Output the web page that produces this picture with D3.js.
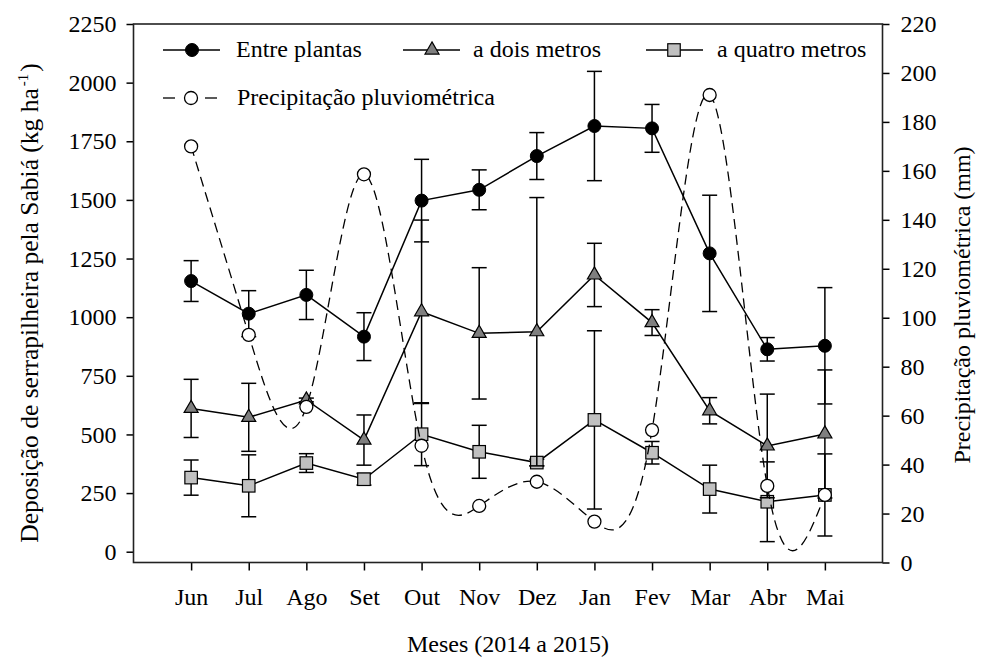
<!DOCTYPE html>
<html>
<head>
<meta charset="utf-8">
<script src="https://cdn.jsdelivr.net/npm/d3@7"></script>
<style>
  html, body { margin: 0; padding: 0; background: #fff; }
  svg { display: block; }
  text { font-family: "Liberation Serif", "Times New Roman", serif; fill: #000; }
</style>
</head>
<body>
<svg id="chart" width="986" height="659"></svg>
<script>
// ---- Data ----
const months = ["Jun","Jul","Ago","Set","Out","Nov","Dez","Jan","Fev","Mar","Abr","Mai"];
const entrePlantas    = [1154, 1015, 1095, 917, 1497, 1543, 1687, 1815, 1805, 1272, 863, 878];
const entrePlantasErr = [87, 98, 105, 102, 176, 85, 100, 233, 102, 248, 50, 248];
const doisMetros      = [611, 573, 647, 476, 1023, 931, 938, 1180, 977, 601, 451, 502];
const doisMetrosErr   = [124, 145, 8, 107, 391, 280, 572, 135, 55, 56, 221, 273];
const quatroMetros    = [316, 281, 378, 309, 501, 426, 380, 562, 422, 267, 213, 242];
const quatroMetrosErr = [75, 132, 40, 25, 134, 113, 14, 380, 48, 102, 170, 175];
const precipitacao    = [170, 93, 63.6, 158.6, 47.7, 23.1, 33, 16.7, 54.1, 191, 31.3, 27.6];
const leftTicks  = [0, 250, 500, 750, 1000, 1250, 1500, 1750, 2000, 2250];
const rightTicks = [0, 20, 40, 60, 80, 100, 120, 140, 160, 180, 200, 220];
const legendLabels = ["Entre plantas", "a dois metros", "a quatro metros", "Precipitação pluviométrica"];

// ---- Layout ----
const svg = d3.select("#chart");
const L = 133.5, R = 882.5, T = 24, B = 562.5;
const FONT = 24;

const x = d3.scaleLinear().domain([-1, 12]).range([L, R]);
const yL = d3.scaleLinear().domain([-46, 2250]).range([B, T]);
const yR = d3.scaleLinear().domain([0, 220]).range([B, T]);

// Axes
const gxL = svg.append("g").attr("transform", `translate(${L},0)`)
  .call(d3.axisLeft(yL).tickValues(leftTicks).tickSize(7).tickPadding(10).tickFormat(d3.format("d")));
const gxR = svg.append("g").attr("transform", `translate(${R},0)`)
  .call(d3.axisRight(yR).tickValues(rightTicks).tickSize(7).tickPadding(11).tickFormat(d3.format("d")));
const gxB = svg.append("g").attr("transform", `translate(0,${B})`)
  .call(d3.axisBottom(x).tickValues(d3.range(months.length)).tickSize(8).tickPadding(17).tickFormat(i => months[i]));
[gxL, gxR, gxB].forEach(g => {
  g.select(".domain").remove();
  g.selectAll(".tick line").attr("stroke", "#000").attr("stroke-width", 1.5);
  g.selectAll(".tick text").attr("font-size", FONT);
});

// Frame
svg.append("rect").attr("x", L).attr("y", T).attr("width", R - L).attr("height", B - T)
  .attr("fill", "none").attr("stroke", "#222").attr("stroke-width", 1.6);

// Axis titles
const lt = svg.append("text").attr("transform", "translate(38,303) rotate(-90)")
  .attr("text-anchor", "middle").attr("font-size", 25.5);
lt.append("tspan").text("Deposição de serrapilheira pela Sabiá (kg ha");
lt.append("tspan").attr("font-size", 15).attr("dx", 2).attr("dy", -10).text("-1");
lt.append("tspan").attr("dx", 2).attr("dy", 10).text(")");

svg.append("text").attr("transform", "translate(962,305) rotate(-90)")
  .attr("text-anchor", "middle").attr("dominant-baseline", "central").attr("font-size", FONT)
  .text("Precipitação pluviométrica (mm)");

svg.append("text").attr("x", (L + R) / 2).attr("y", 652).attr("text-anchor", "middle")
  .attr("font-size", FONT).text("Meses (2014 a 2015)");

// ---- Marker helpers ----
function circleFilled(g, cx, cy) {
  g.append("circle").attr("cx", cx).attr("cy", cy).attr("r", 6.5).attr("fill", "#000").attr("stroke", "#000");
}
function circleOpen(g, cx, cy) {
  g.append("circle").attr("cx", cx).attr("cy", cy).attr("r", 6.5).attr("fill", "#fff").attr("stroke", "#000").attr("stroke-width", 1.3);
}
function triangle(g, cx, cy) {
  const s = 14, h = s * Math.sqrt(3) / 2;
  g.append("path").attr("d", `M${cx},${cy - h * 2 / 3}L${cx + s / 2},${cy + h / 3}L${cx - s / 2},${cy + h / 3}Z`)
    .attr("fill", "#7f7f7f").attr("stroke", "#000").attr("stroke-width", 1.2);
}
function square(g, cx, cy) {
  const s = 12.5;
  g.append("rect").attr("x", cx - s / 2).attr("y", cy - s / 2).attr("width", s).attr("height", s)
    .attr("fill", "#c0c0c0").attr("stroke", "#000").attr("stroke-width", 1.2);
}

// ---- Series ----
function drawSeries(values, errs, marker) {
  const g = svg.append("g");
  values.forEach((v, i) => {
    const e = errs[i];
    const cx = x(i);
    const y1 = yL(v + e), y2 = yL(v - e);
    g.append("line").attr("x1", cx).attr("x2", cx).attr("y1", y1).attr("y2", y2).attr("stroke", "#000").attr("stroke-width", 1.5);
    [y1, y2].forEach(yy => g.append("line").attr("x1", cx - 7.5).attr("x2", cx + 7.5).attr("y1", yy).attr("y2", yy)
      .attr("stroke", "#000").attr("stroke-width", 1.5));
  });
  const line = d3.line().x((d, i) => x(i)).y(d => yL(d));
  g.append("path").datum(values).attr("d", line).attr("fill", "none").attr("stroke", "#000").attr("stroke-width", 1.5);
  values.forEach((v, i) => marker(g, x(i), yL(v)));
}

drawSeries(quatroMetros, quatroMetrosErr, square);
drawSeries(doisMetros, doisMetrosErr, triangle);
drawSeries(entrePlantas, entrePlantasErr, circleFilled);

// precipitation (right axis)
const gp = svg.append("g");
const pline = d3.line().x((d, i) => x(i)).y(d => yR(d)).curve(d3.curveNatural);
gp.append("path").datum(precipitacao).attr("d", pline).attr("fill", "none").attr("stroke", "#000")
  .attr("stroke-width", 1.3).attr("stroke-dasharray", "10,6");
precipitacao.forEach((v, i) => circleOpen(gp, x(i), yR(v)));

// ---- Legend ----
const lg = svg.append("g");
function legendLine(x1, x2, y, dashed) {
  if (dashed) {
    lg.append("line").attr("x1", x1).attr("x2", x1 + 12).attr("y1", y).attr("y2", y).attr("stroke", "#000").attr("stroke-width", 1.3);
    lg.append("line").attr("x1", x2 - 12).attr("x2", x2).attr("y1", y).attr("y2", y).attr("stroke", "#000").attr("stroke-width", 1.3);
  } else {
    lg.append("line").attr("x1", x1).attr("x2", x2).attr("y1", y).attr("y2", y).attr("stroke", "#000").attr("stroke-width", 1.5);
  }
}
const row1 = 50, row2 = 98;
legendLine(163, 220, row1); circleFilled(lg, 192, row1);
lg.append("text").attr("x", 236).attr("y", row1 + 7).attr("font-size", FONT).text(legendLabels[0]);
legendLine(403, 460, row1); triangle(lg, 432, row1);
lg.append("text").attr("x", 473).attr("y", row1 + 7).attr("font-size", FONT).text(legendLabels[1]);
legendLine(646, 703, row1); square(lg, 674, row1);
lg.append("text").attr("x", 717).attr("y", row1 + 7).attr("font-size", FONT).text(legendLabels[2]);
legendLine(163, 217, row2, true); circleOpen(lg, 191, row2);
lg.append("text").attr("x", 237).attr("y", row2 + 7).attr("font-size", FONT).text(legendLabels[3]);
</script>
</body>
</html>
